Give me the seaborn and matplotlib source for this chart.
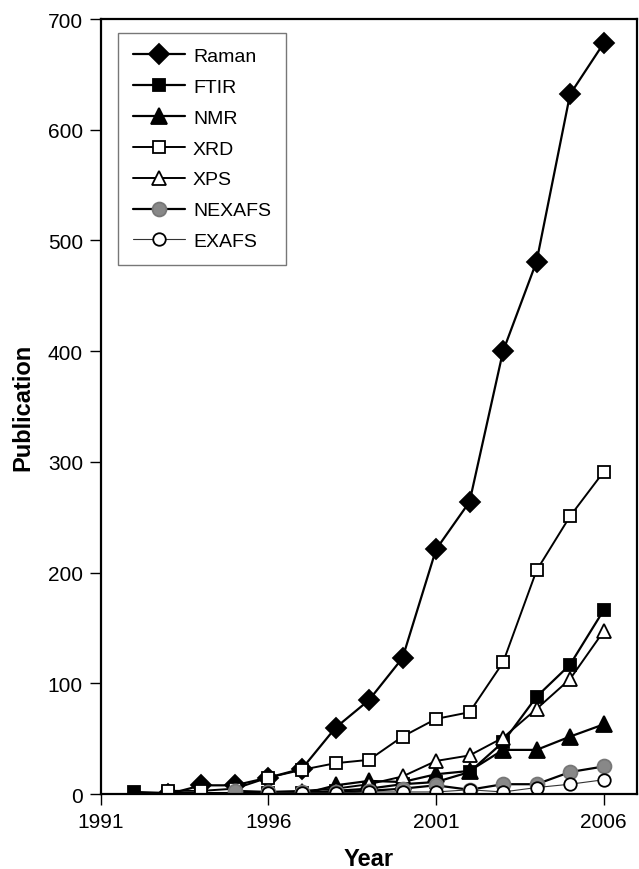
import matplotlib
matplotlib.use("Agg")
import matplotlib.pyplot as plt
import numpy as np
import pandas as pd
import seaborn as sns

years = list(range(1992, 2007))
nan = np.nan
raman = [nan, 0, 8, 8, 15, 23, 60, 85, 123, 221, 264, 400, 481, 632, 678]
ftir = [2, 1, 1, 1, 1, 1, 3, 5, 9, 11, 20, 47, 88, 117, 166]
nmr = [nan, nan, nan, 0, 0, 0, 8, 12, 11, 18, 21, 40, 40, 52, 63]
xrd = [nan, 3, 3, 5, 15, 22, 28, 31, 52, 68, 74, 119, 202, 251, 291]
xps = [nan, nan, nan, 1, 2, 3, 5, 9, 16, 30, 35, 51, 77, 104, 147]
nexafs = [nan, nan, nan, 3, 2, 2, 2, 3, 5, 8, 4, 9, 9, 20, 25]
exafs = [nan, nan, nan, nan, 1, 1, 1, 2, 2, 2, 4, 2, 6, 9, 13]

series = {
    "Raman": raman,
    "FTIR": ftir,
    "NMR": nmr,
    "XRD": xrd,
    "XPS": xps,
    "NEXAFS": nexafs,
    "EXAFS": exafs,
}

styles = {
    "Raman": dict(marker="D", ms=10, mfc="black", lw=1.6, color="black"),
    "FTIR": dict(marker="s", ms=8, mfc="black", lw=1.6, color="black"),
    "NMR": dict(marker="^", ms=11, mfc="black", lw=1.6, color="black"),
    "XRD": dict(marker="s", ms=8, mfc="white", lw=1.4, color="black"),
    "XPS": dict(marker="^", ms=10, mfc="white", lw=1.4, color="black"),
    "NEXAFS": dict(marker="o", ms=10, mfc="#888888", mec="#777777", lw=1.6, color="black"),
    "EXAFS": dict(marker="o", ms=9, mfc="white", lw=0.8, color="#333333"),
}

sns.set_style("ticks")
plt.rcParams["font.family"] = ["Liberation Sans", "DejaVu Sans"]
plt.rcParams["text.color"] = "black"
plt.rcParams["axes.labelcolor"] = "black"

fig = plt.figure(figsize=(6.39, 8.70), dpi=100)
ax = fig.add_axes([0.158, 0.086, 0.839, 0.891])

for name, vals in series.items():
    st = dict(styles[name])
    df = pd.DataFrame({"Year": years, "Publication": vals}).dropna()
    mec = st.pop("mec", "black")
    sns.lineplot(
        data=df, x="Year", y="Publication", ax=ax,
        label=name, marker=st["marker"], markersize=st["ms"],
        markerfacecolor=st["mfc"], markeredgecolor=mec, markeredgewidth=1.3,
        linewidth=st["lw"], color=st["color"],
    )

ax.set_xlim(1991, 2007)
ax.set_ylim(0, 700)
ax.set_xticks([1991, 1996, 2001, 2006])
ax.set_yticks(range(0, 701, 100))
ax.tick_params(labelsize=15, direction="out", length=8, width=1, pad=5, colors="black")
for s in ax.spines.values():
    s.set_visible(True)
    s.set_color("black")
    s.set_linewidth(1.6)
ax.set_xlabel("Year", fontsize=17, fontweight="bold", labelpad=11, color="black")
ax.set_ylabel("Publication", fontsize=17, fontweight="bold", labelpad=10, color="black")

leg = ax.legend(loc="upper left", bbox_to_anchor=(0.032, 0.982), fontsize=14,
                frameon=True, fancybox=False, edgecolor="#555555",
                handlelength=2.7, handletextpad=0.4, labelspacing=0.68,
                borderpad=0.75, borderaxespad=0)
leg.get_frame().set_linewidth(1.0)
for t in leg.get_texts():
    t.set_color("black")

fig.savefig("out.png", dpi=100)
